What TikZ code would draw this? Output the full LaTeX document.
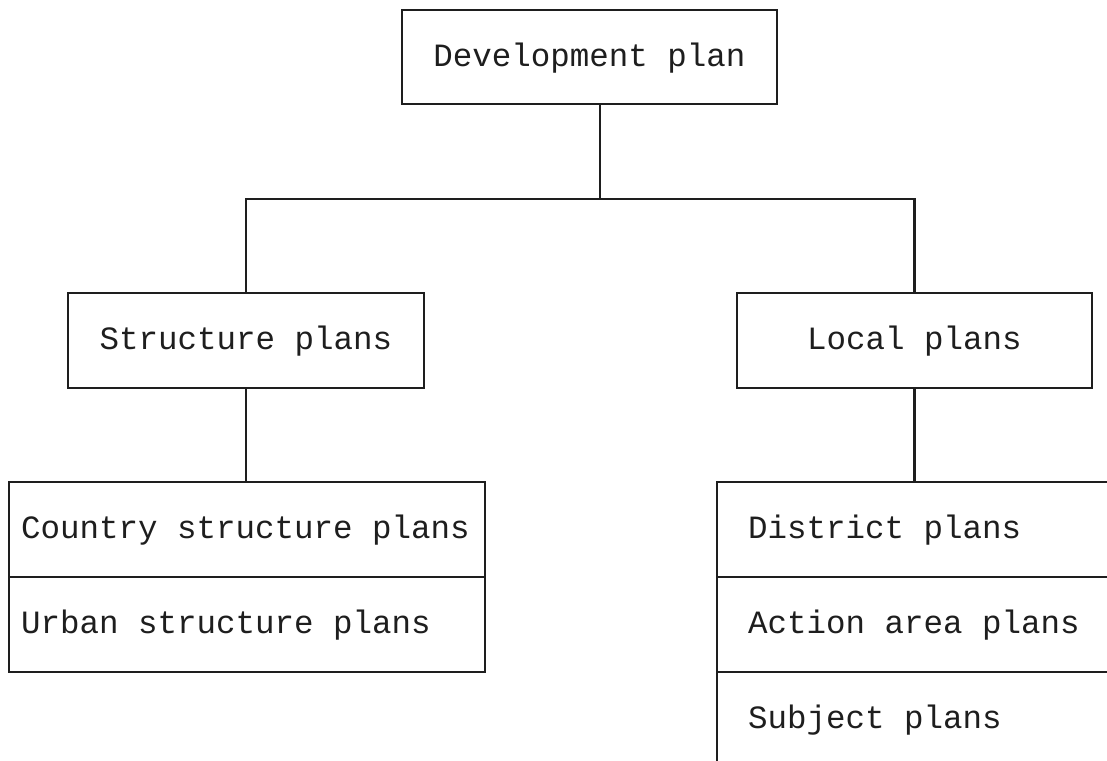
\documentclass[tikz,border=0pt]{standalone}
\usepackage{fontspec}
\newfontfamily\dotfont{Liberation Mono}
\definecolor{ink}{HTML}{1E1E1E}
\begin{document}
\begin{tikzpicture}[x=1pt,y=-1pt,
  conn/.style={draw=ink, line width=2.4pt},
  box/.style={draw=ink, line width=2.4pt, rectangle, text=ink, outer sep=0pt,
    font=\dotfont\fontsize{32.5pt}{39pt}\selectfont,
    text height=18.5pt, text depth=0pt, inner sep=0pt},
  rowl/.style={box, align=left, text width=452pt, inner xsep=12pt, minimum height=95pt,
    execute at begin node={\spaceskip=0pt\xspaceskip=0pt\relax}},
  rowr/.style={box, align=left, text width=338pt, inner xsep=31pt, minimum height=95pt,
    execute at begin node={\spaceskip=0pt\xspaceskip=0pt\relax}}]
\useasboundingbox (0,0) rectangle (1107,760);
\fill[white] (0,0) rectangle (1107,760);
\clip (0,0) rectangle (1107,760);
% top level
\node[box, minimum width=375pt, minimum height=94pt, anchor=north west] (dev) at (402,10) {Development plan};
% second level
\node[box, minimum width=356pt, minimum height=95pt, anchor=north west] (sp) at (68,293) {Structure plans};
\node[box, minimum width=355pt, minimum height=95pt, anchor=north west] (lp) at (737,293) {Local plans};
% third level, left
\node[rowl, anchor=north west] (csp) at (9,482) {Country structure plans};
\node[rowl, anchor=north] (usp) at (csp.south) {Urban structure plans};
% third level, right (cut off by the page edge)
\node[rowr, anchor=north west] (dp) at (717,482) {District plans};
\node[rowr, anchor=north] (ap) at (dp.south) {Action area plans};
\node[rowr, anchor=north] (subj) at (ap.south) {Subject plans};
% connectors
\coordinate (bus) at (600,199);
\draw[conn] (dev.south -| bus) -- (bus);
\draw[conn] (sp.north) -- (sp.north |- bus) -- (lp.north |- bus) -- (lp.north);
\draw[conn] (sp.south) -- (sp.south |- csp.north);
\draw[conn] (lp.south) -- (lp.south |- dp.north);
\end{tikzpicture}
\end{document}
